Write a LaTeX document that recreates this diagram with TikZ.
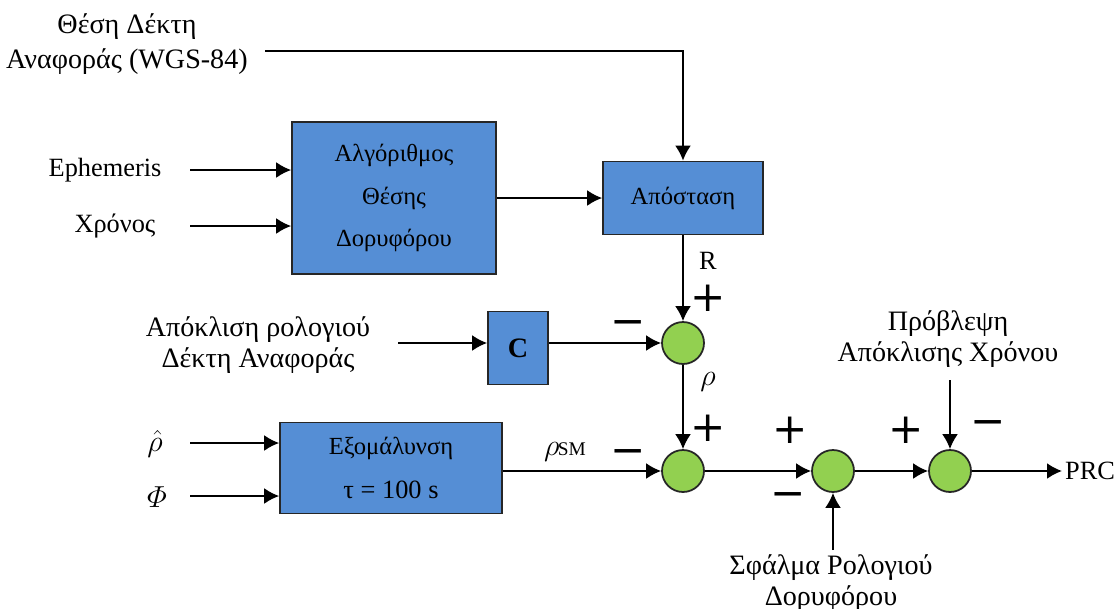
\documentclass[tikz,border=0pt]{standalone}
\usepackage{amsmath}
\usepackage{fontspec}
\setmainfont{Liberation Serif}
\newfontfamily\signfont{DejaVu Sans}
\usepackage{tikz}
\usetikzlibrary{positioning}
\usetikzlibrary{arrows.meta}

\definecolor{boxblue}{RGB}{85,142,213}
\definecolor{sumgreen}{RGB}{146,208,80}

\tikzset{
  block/.style={draw=black!85,fill=boxblue,line width=1pt,align=center,inner sep=0pt,font=\fontsize{14}{24}\selectfont},
  sumnode/.style={circle,draw=black!85,fill=sumgreen,line width=1pt,minimum size=0.84cm,inner sep=0pt},
  sig/.style={-{Latex[length=8.5pt,width=9pt]},line width=1pt},
  lbl/.style={align=center,font=\fontsize{15}{17.5}\selectfont},
  glbl/.style={align=center,font=\fontsize{16}{17.5}\selectfont},
  mlbl/.style={font=\fontsize{18}{18}\selectfont},
  sgn/.style={font=\signfont\fontsize{24}{24}\selectfont}
}

\begin{document}
\begin{tikzpicture}[x=0.02cm,y=-0.02cm]
\useasboundingbox (0,0) rectangle (1117,609);

\node[glbl,font=\fontsize{16}{19.5}\selectfont] (refpos) at (127,44) {Θέση Δέκτη\\Αναφοράς (WGS-84)};
\node[lbl] (eph) at (105,170) {Ephemeris};
\node[lbl] (time) at (115,226) {Χρόνος};
\node[glbl] (rcvclk) at (258,345) {Απόκλιση ρολογιού\\Δέκτη Αναφοράς};
\node[mlbl] (rhohat) at (155,444) {$\hat{\rho}$};
\node[mlbl] (phi) at (157,497) {$\varPhi$};
\node[glbl] (pred) at (948,339) {Πρόβλεψη\\Απόκλισης Χρόνου};
\node[glbl] (satclk) at (831,583) {Σφάλμα Ρολογιού\\Δορυφόρου};
\node[lbl] (prc) at (1090,471) {PRC};

\node[block,minimum width=4.08cm,minimum height=3.04cm] (alg) at (394,198) {Αλγόριθμος\\Θέσης\\Δορυφόρου};
\node[block,minimum width=3.2cm,minimum height=1.46cm] (dist) at (683,198) {Απόσταση};
\node[block,minimum width=1.2cm,minimum height=1.46cm,font=\fontsize{16}{16}\selectfont\bfseries] (cgain) at (518,348) {C};
\node[block,minimum width=4.44cm,minimum height=1.82cm,font=\fontsize{14}{25.5}\selectfont] (smooth) at (391,468) {Εξομάλυνση\\{\fontsize{15}{15}\selectfont τ = 100 s}};

\node[sumnode] (s1) at (683,343) {};
\node[sumnode] (s2) at (683,471) {};
\node[sumnode] (s3) at (833,471) {};
\node[sumnode] (s4) at (950,471) {};

\coordinate (refin) at (265,51);
\coordinate (ephin) at (190,170);
\coordinate (timein) at (190,226);
\coordinate (clkin) at (398,343);
\coordinate (rhoin) at (190,443);
\coordinate (phiin) at (190,496);
\coordinate (predin) at (950,380);
\coordinate (satin) at (833,550);
\coordinate (prcout) at (1062,471);

\draw[sig] (refin) -| (dist);
\draw[sig] (ephin) -- (ephin -| alg.west);
\draw[sig] (timein) -- (timein -| alg.west);
\draw[sig] (alg) -- (dist);
\draw[sig] (dist) -- (s1);
\draw[sig] (clkin) -- (clkin -| cgain.west);
\draw[sig] (cgain.east |- s1) -- (s1);
\draw[sig] (s1) -- (s2);
\draw[sig] (rhoin) -- (rhoin -| smooth.west);
\draw[sig] (phiin) -- (phiin -| smooth.west);
\draw[sig] (smooth.east |- s2) -- (s2);
\draw[sig] (s2) -- (s3);
\draw[sig] (s3) -- (s4);
\draw[sig] (satin) -- (s3);
\draw[sig] (predin) -- (s4);
\draw[sig] (s4) -- (prcout);

\node[lbl] (rlbl) at (708,261) {R};
\node[mlbl] (rholbl) at (708,382) {$\rho$};
\node[mlbl] (rhosm) at (565,452) {$\rho$\kern-1pt{\fontsize{11}{11}\selectfont SM}};

\node[sgn] (p1) at (708,298) {+};
\node[sgn] (p2) at (708,428) {+};
\node[sgn] (p3) at (790,430) {+};
\node[sgn] (p4) at (906,430) {+};
\node[sgn] (m1) at (628,328) {−};
\node[sgn] (m2) at (628,457) {−};
\node[sgn] (m3) at (788,500) {−};
\node[sgn] (m4) at (988,428) {−};
\end{tikzpicture}
\end{document}
